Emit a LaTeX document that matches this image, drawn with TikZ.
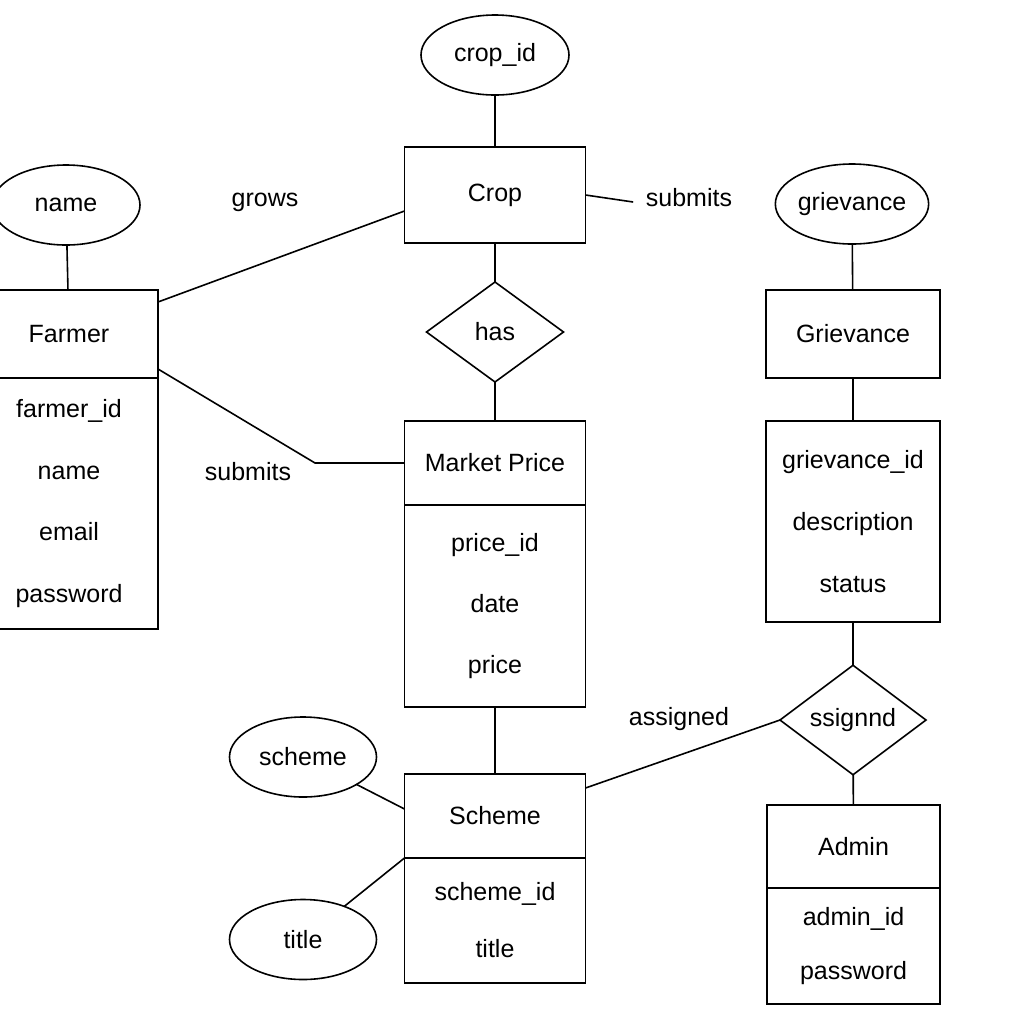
\documentclass[tikz,border=0pt]{standalone}
\usepackage{fontspec}
\setmainfont{Liberation Sans}
\usetikzlibrary{er,positioning,shapes.geometric}

\tikzset{
  every entity/.style={draw, line width=0.8pt, inner sep=0pt, outer sep=0pt},
  every attribute/.style={draw, line width=0.8pt, inner sep=0pt, outer sep=0pt},
  every relationship/.style={draw, line width=0.8pt, inner sep=0pt, outer sep=0pt},
  fields/.style={rectangle, draw, line width=0.8pt, inner sep=0pt, outer sep=0pt, align=center},
  lbl/.style={inner sep=2pt}
}

\begin{document}
\begin{tikzpicture}[x=0.5pt, y=-0.5pt, line width=0.8pt,
    every node/.append style={font=\fontsize{12.5}{15}\selectfont}]

  \useasboundingbox (0,0) rectangle (1024,1024);

  % crop
  \node[entity, minimum width=90.5pt, minimum height=48pt] (crop) at (495,195) {Crop};
    \node[attribute, minimum width=74pt, minimum height=40pt] (crop_id) at (495,55) {crop\_id} edge (crop);

  \node[relationship, minimum width=68.5pt, minimum height=50pt] (has) at (495,332) {has} edge (crop);

  % market price
  \node[entity, minimum width=90.5pt, minimum height=42pt] (mp) at (495,463) {Market Price} edge (has);
  \node[fields, minimum width=90.5pt, minimum height=101pt, font=\fontsize{12.5}{30.5}\selectfont]
    (mp_f) [below=0pt of mp] {price\_id\\date\\price};

  % farmer
  \node[entity, minimum width=89pt, minimum height=44pt] (farmer) at (69,334) {Farmer};
  \node[fields, minimum width=89pt, minimum height=125.5pt, font=\fontsize{12.5}{30.7}\selectfont]
    (farmer_f) [below=0pt of farmer] {farmer\_id\\name\\email\\password};
    \node[attribute, minimum width=74pt, minimum height=40pt] (f_name) at (66,205) {name} edge (farmer);

  % scheme
  \node[entity, minimum width=90.5pt, minimum height=42pt] (scheme) at (495,816) {Scheme} edge (mp_f);
  \node[fields, minimum width=90.5pt, minimum height=62.5pt, font=\fontsize{12.5}{28.5}\selectfont]
    (scheme_f) [below=0pt of scheme] {scheme\_id\\title};
    \node[attribute, minimum width=73.5pt, minimum height=40pt] (s_scheme) at (303,757) {scheme};
    \node[attribute, minimum width=73.5pt, minimum height=40pt] (s_title) at (303,939.5) {title};

  % grievance
  \node[entity, minimum width=87pt, minimum height=44pt] (griev) at (853,334) {Grievance};
    \node[attribute, minimum width=74.5pt, minimum height=40pt] (g_name) at (852,204) {grievance} edge (griev);
  \node[fields, minimum width=87pt, minimum height=100.5pt, font=\fontsize{12.5}{31.2}\selectfont]
    (griev_f) [below=21.5pt of griev] {grievance\_id\\description\\status} edge (griev);

  \node[relationship, minimum width=73pt, minimum height=53pt] (asg) at (853,720) {ssignnd} edge (griev_f);

  % admin
  \node[entity, minimum width=86.5pt, minimum height=41.5pt] (admin) at (853.5,846.5) {Admin} edge (asg);
  \node[fields, minimum width=86.5pt, minimum height=58pt, font=\fontsize{12.5}{27}\selectfont]
    (admin_f) [below=0pt of admin] {admin\_id\\password};

  % labels
  \node[lbl] (l_grows) at (265,202) {grows};
  \node[lbl] (l_sub1) at (248,472) {submits};
  \node[lbl] (l_sub2) at (689,198) {submits};
  \node[lbl] (l_asg) at (679,719) {assigned};

  \coordinate (bend) at (315,463);

  \draw ([yshift=-6pt]farmer.north east) -- ([yshift=-8pt]crop.west);
  \draw ([yshift=4.5pt]farmer.south east) -- (bend) -- (mp.west);
  \draw (crop.east) -- ([xshift=-4pt,yshift=-2pt]l_sub2.west);
  \draw ([yshift=-7pt]scheme.north east) -- (asg.west);
  \draw (s_scheme) -- ([yshift=3.5pt]scheme.west);
  \draw (s_title) -- (scheme.south west);

\end{tikzpicture}
\end{document}
